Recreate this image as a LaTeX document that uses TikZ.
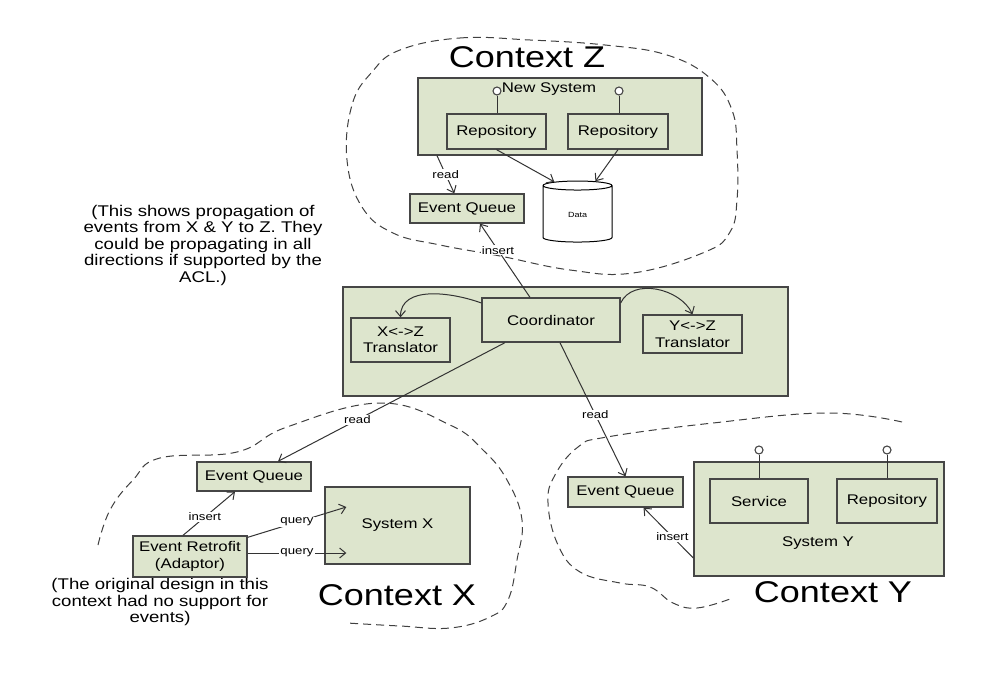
\documentclass[tikz,border=0pt]{standalone}
\usepackage{fontspec}
\setmainfont{Liberation Sans}[FakeStretch=1.2]
\usepackage{tikz}
\usetikzlibrary{shapes.geometric,arrows.meta}
\definecolor{boxgreen}{RGB}{221,229,205}
\definecolor{edgegray}{RGB}{70,70,70}

\begin{document}
\begin{tikzpicture}[x=1pt,y=-1pt,
  box/.style={draw=edgegray, line width=1.3pt, fill=boxgreen, inner sep=2pt,
    align=center, font=\fontsize{14}{16.5}\selectfont},
  link/.style={draw=black!80, line width=1pt},
  arr/.style={link, -{Straight Barb[length=6pt,width=10pt]}},
  lbl/.style={fill=white, inner sep=1pt, font=\fontsize{11}{12}\selectfont},
  ctx/.style={dash pattern=on 8pt off 5pt, draw=black!75, line width=1pt},
  lolli/.style={circle, draw=edgegray, fill=white, line width=1.1pt, inner sep=0pt, minimum size=8pt},
  title/.style={font=\fontsize{30}{34}\selectfont},
  note/.style={align=center, font=\fontsize{15.5}{16.5}\selectfont},
  ]
  \useasboundingbox (0,0) rectangle (985,682);
  \draw[ctx] plot[smooth cycle, tension=0.7] coordinates {(400,50) (460,38) (530,40) (605,45) (667,55)
    (710,78) (732,110) (737,150) (737,200) (730,232) (705,252) (633,273) (570,270) (500,256)
    (440,245) (393,233) (362,207) (347,160) (352,105) (372,72)};
  \draw[ctx] plot[smooth, tension=0.7] coordinates {(98,545) (110,510) (133,480) (160,458) (237,452)
    (287,427) (380,403) (450,425) (483,450) (507,480) (522,520) (517,560) (508,600) (490,617)
    (450,628) (400,626) (347,623)};
  \draw[ctx] plot[smooth, tension=0.7] coordinates {(902,422) (827,413) (713,423) (607,437) (578,447)
    (555,475) (548,503) (558,545) (580,572) (620,583) (650,587) (673,603) (697,608) (730,599)};
  \node[title] (ctxZ) at (527,57) {Context Z};
  \node[title] (ctxX) at (397,595) {Context X};
  \node[title] (ctxY) at (833,592) {Context Y};
  \node[note] (noteZ) at (203,245) {(This shows propagation of\\events from X \& Y to Z. They\\could be propagating in all\\directions if supported by the\\ACL.)};
  \node[note] (noteX) at (160,602) {(The original design in this\\context had no support for\\events)};

  \node[box, minimum width=284pt, minimum height=77pt] (newsys) at (560,116.5) {};
  \node[font=\fontsize{14}{16}\selectfont] (newsysLbl) at (549,89) {New System};
  \node[box, minimum width=99pt, minimum height=35pt] (repoZa) at (496.5,131.5) {Repository};
  \node[box, minimum width=100pt, minimum height=35pt] (repoZb) at (618,131.5) {Repository};
  \node[lolli] (lzA) at (497,91) {};
  \node[lolli] (lzB) at (619,91) {};
  \draw[link] (lzA) -- (lzA |- repoZa.north);
  \draw[link] (lzB) -- (lzB |- repoZb.north);
  \node[cylinder, shape border rotate=90, draw=black, fill=white, line width=1pt, aspect=0.35,
    minimum width=69pt, minimum height=61pt, font=\fontsize{7.5}{9}\selectfont] (data) at (577.5,215) {Data};
  \node[box, minimum width=114pt, minimum height=29pt] (eqZ) at (467,208.5) {Event Queue};
  \draw[arr] (repoZa.south) -- (data.125);
  \draw[arr] (repoZb.south) -- (data.62);
  \draw[arr] ([xshift=-123pt]newsys.south) -- node[lbl] {read} (eqZ.130);

  \node[box, minimum width=445pt, minimum height=109pt] (acl) at (565.5,341.5) {};
  \node[box, minimum width=138pt, minimum height=44pt] (coord) at (551,320) {Coordinator};
  \node[box, minimum width=99pt, minimum height=44pt] (trX) at (400.5,340) {X<->Z\\Translator};
  \node[box, minimum width=99pt, minimum height=38pt] (trY) at (692.5,334) {Y<->Z\\Translator};
  \draw[arr] ([xshift=-21pt]coord.north) -- node[lbl, pos=0.64] {insert} ([xshift=13pt]eqZ.south);
  \draw[arr] ([yshift=17pt]coord.west) to[out=160,in=90] (trX.north);
  \draw[arr] ([yshift=17pt]coord.east) to[out=65,in=115] (trY.north);

  \node[box, minimum width=114pt, minimum height=29pt] (eqX) at (254,476.5) {Event Queue};
  \node[box, minimum width=145pt, minimum height=77pt] (sysX) at (397.5,525.5) {System X};
  \node[box, minimum width=114pt, minimum height=41pt] (retro) at (190,556.5) {Event Retrofit\\(Adaptor)};
  \draw[arr] ([xshift=-46pt]coord.south) -- node[lbl, pos=0.65] {read} ([xshift=24pt]eqX.north);
  \draw[arr] ([xshift=-7pt]retro.north) -- node[lbl, pos=0.42] {insert} ([xshift=-19pt]eqX.south);
  \draw[arr] ([yshift=-2pt]retro.north east) -- node[lbl] {query} ([xshift=22pt,yshift=18.5pt]sysX.west);
  \draw[arr] ([yshift=3.5pt]retro.east) -- node[lbl] {query} ([xshift=22pt,yshift=-27.5pt]sysX.west);

  \node[box, minimum width=115pt, minimum height=30pt] (eqY) at (625.5,492) {Event Queue};
  \node[box, minimum width=250pt, minimum height=114pt] (sysY) at (819,519) {};
  \node[font=\fontsize{14}{16}\selectfont] (sysYLbl) at (818,543) {System Y};
  \node[box, minimum width=98pt, minimum height=44pt] (service) at (759,501) {Service};
  \node[box, minimum width=100pt, minimum height=44pt] (repoY) at (887,501) {Repository};
  \node[lolli] (lyA) at (759,450) {};
  \node[lolli] (lyB) at (887,450) {};
  \draw[link] (lyA) -- (lyA |- service.north);
  \draw[link] (lyB) -- (lyB |- repoY.north);
  \draw[arr] ([xshift=9pt]coord.south) -- node[lbl, pos=0.54] {read} (eqY.north);
  \draw[arr] ([yshift=-39pt]sysY.west) -- node[lbl, pos=0.42] {insert} ([xshift=18pt]eqY.south);
\end{tikzpicture}
\end{document}
